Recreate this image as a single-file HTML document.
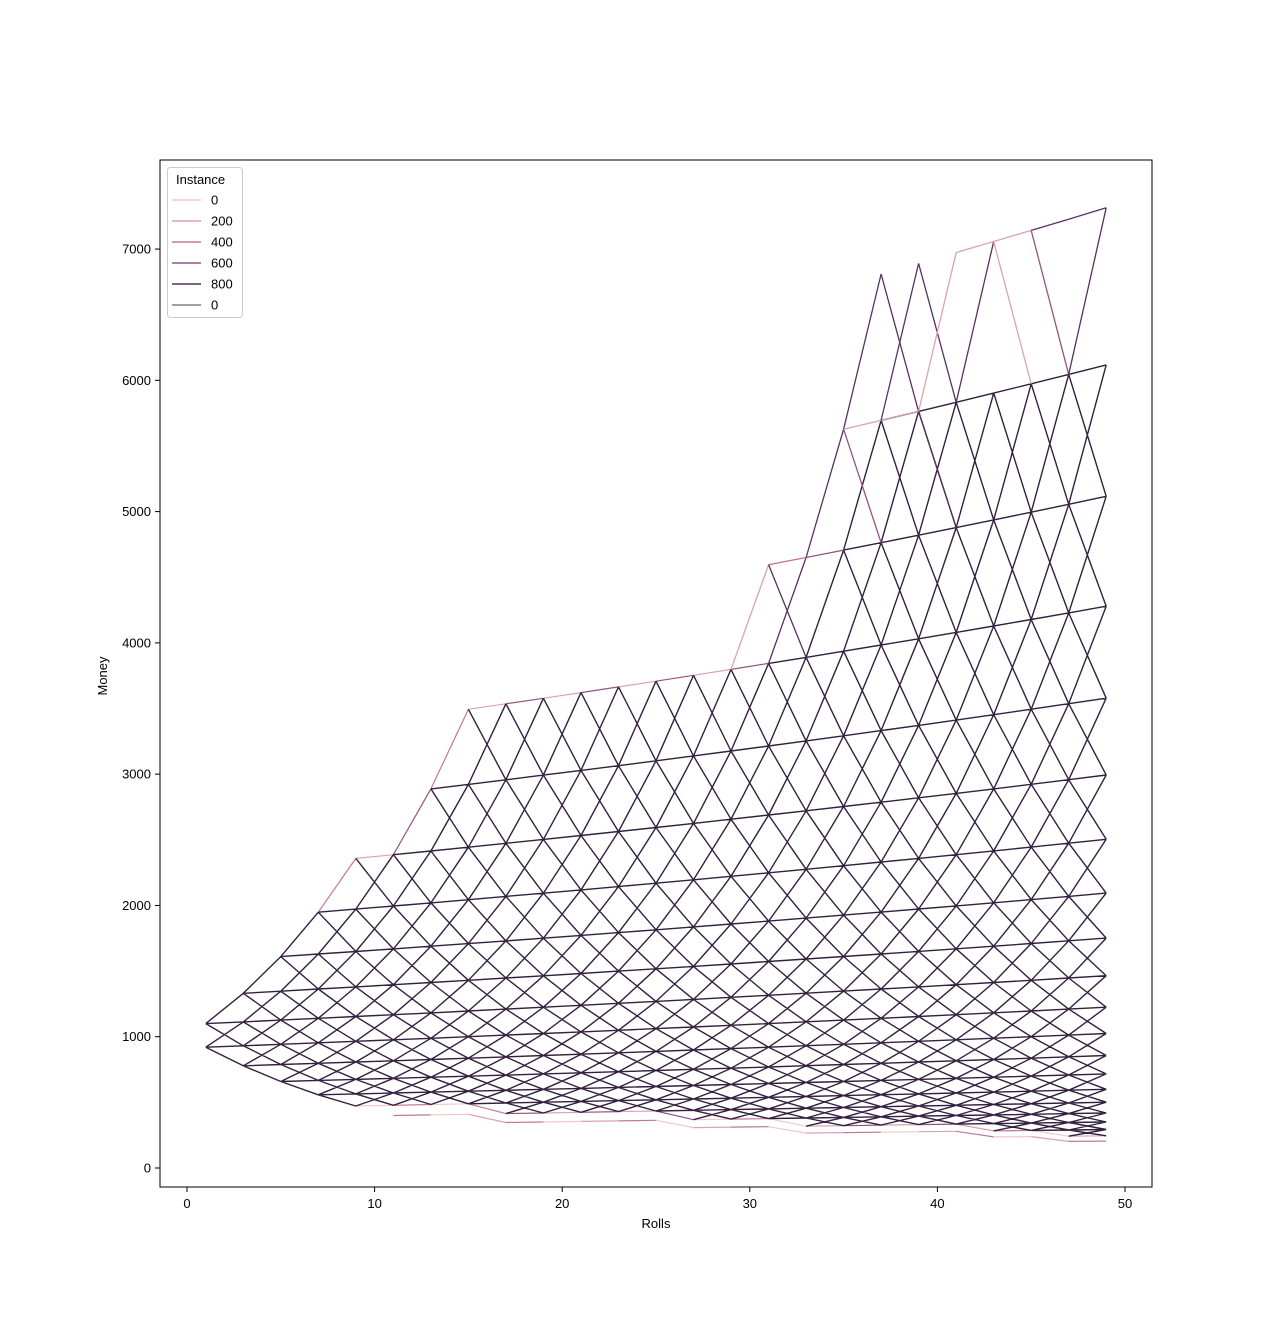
<!DOCTYPE html>
<html><head><meta charset="utf-8"><style>
body{margin:0;background:#fff;font-family:"Liberation Sans","DejaVu Sans",sans-serif;}
svg text{font-family:"Liberation Sans","DejaVu Sans",sans-serif;}
</style></head><body>
<svg id="chart" width="1280" height="1334" viewBox="0 0 1280 1334" xmlns="http://www.w3.org/2000/svg">
<rect width="1280" height="1334" fill="#fff"/>
<g id="marks"></g>
<rect x="160" y="160" width="992" height="1027" fill="none" stroke="#000" stroke-width="1"/>
<g id="axes"></g>
<text x="656" y="1228" font-size="13" text-anchor="middle">Rolls</text>
<text x="107" y="676" font-size="13" text-anchor="middle" transform="rotate(-90 107 676)">Money</text>
<g>
<rect x="167.5" y="167.5" width="75" height="150" rx="3" fill="#fff" fill-opacity="0.8" stroke="#ccc"/>
<text x="176" y="184" font-size="13">Instance</text>
<g id="legend-items"></g>
</g>
</svg>
<script>
const rolls=[1,3,5,7,9,11,13,15,17,19,21,23,25,27,29,31,33,35,37,39,41,43,45,47,49];
const kMax=[1,3,5,7,9,10,12,14,15,16,17,18,19,20,21,22,23,25,27,28,29,30,31,32,33];
const kMin=[0,0,0,0,0,1,2,3,3,4,5,6,7,7,8,9,9,10,11,12,13,13,14,14,15];
// sparse upper edges: [fromRoll, fromK, toK]
const sparseFrom=[29,31,31,31,33,33,35,35,35,37,37,37,39,39,39,41,41,43,43,45,45,47,47];
const sparseK   =[21,22,23,23,24,24,26,26,26,28,27,27,29,28,28,30,29,31,31,32,32,33,32];
const sparseTo  =[23,24,24,23,26,25,28,27,26,28,28,29,29,30,28,31,31,32,31,33,32,34,34];
const sparseTone=[1,4,2,4,4,3,4,1,3,4,1,4,4,1,4,1,4,1,1,4,3,4,4];
const upFactor=1.1, downFactor=0.92, startMoney=1000;
const xTicks=[0,10,20,30,40,50];
const yTicks=[0,1000,2000,3000,4000,5000,6000,7000];
const legendLabels=['0','200','400','600','800','0'];
const palette=['#eccbc8','#dba3ae','#c07995','#955482','#573160','#000000'];
const NS='http://www.w3.org/2000/svg';
function X(v){return 187+v*18.76;}
function Y(v){return 1168-v*0.13128;}
function money(n,k){return startMoney*Math.pow(upFactor,k)*Math.pow(downFactor,n-k);}
function seg(n1,k1,n2,k2){return 'M'+X(n1).toFixed(1)+' '+Y(money(n1,k1)).toFixed(1)+'L'+X(n2).toFixed(1)+' '+Y(money(n2,k2)).toFixed(1);}
const marks=document.getElementById('marks');
function addPath(d,color,w,name){
  const p=document.createElementNS(NS,'path');
  p.setAttribute('d',d);p.setAttribute('stroke',color);p.setAttribute('stroke-width',w);p.setAttribute('fill','none');
  
  
  marks.appendChild(p);
}
let d='';const light=[];
for(let i=0;i<rolls.length-1;i++){
  for(let k=kMin[i];k<=kMax[i];k++){
    for(let j=0;j<3;j++){
      const k2=k+j;
      if(k2<kMin[i+1]||k2>kMax[i+1])continue;
      const s=seg(rolls[i],k,rolls[i+1],k2);
      const edge=(k===kMax[i]&&k2===kMax[i+1]&&i<15)||(k===kMin[i]&&k2===kMin[i+1]&&i>3);
      if(edge&&i>2)light.push([s,(i+k)%4]);else d+=s;
    }
  }
  if(i>3&&kMin[i]>0){
    const k=kMin[i]-1,k2=Math.max(kMin[i+1]-1,k);
    if(k2-k<=2)light.push([seg(rolls[i],k,rolls[i+1],k2),(i%3)]);
  }
}
light.forEach(function(s){addPath(s[0],palette[s[1]],'1.2','envelope-line');});
addPath(d,'#33203f','1.4','instance-lines');
for(let e=0;e<sparseFrom.length;e++){
  addPath(seg(sparseFrom[e],sparseK[e],sparseFrom[e]+2,sparseTo[e]),palette[sparseTone[e]],'1.3','upper-instance-line');
}
const axes=document.getElementById('axes');
xTicks.forEach(function(t){
  const l=document.createElementNS(NS,'line');
  l.setAttribute('x1',X(t));l.setAttribute('x2',X(t));l.setAttribute('y1',1187);l.setAttribute('y2',1192);l.setAttribute('stroke','#000');
  
  
  axes.appendChild(l);
  const tx=document.createElementNS(NS,'text');
  tx.setAttribute('x',X(t));tx.setAttribute('y',1208);tx.setAttribute('font-size','13');tx.setAttribute('text-anchor','middle');tx.textContent=t;
  
  
  axes.appendChild(tx);
});
yTicks.forEach(function(t){
  const l=document.createElementNS(NS,'line');
  l.setAttribute('x1',155);l.setAttribute('x2',160);l.setAttribute('y1',Y(t));l.setAttribute('y2',Y(t));l.setAttribute('stroke','#000');
  
  
  axes.appendChild(l);
  const tx=document.createElementNS(NS,'text');
  tx.setAttribute('x',151);tx.setAttribute('y',Y(t)+4.5);tx.setAttribute('font-size','13');tx.setAttribute('text-anchor','end');tx.textContent=t;
  
  
  axes.appendChild(tx);
});
const li=document.getElementById('legend-items');
legendLabels.forEach(function(lab,i){
  const y=200+i*21;
  const l=document.createElementNS(NS,'line');
  l.setAttribute('x1',172);l.setAttribute('x2',201);l.setAttribute('y1',y);l.setAttribute('y2',y);
  l.setAttribute('stroke',palette[i]);l.setAttribute('stroke-width',i===5?'0.8':'1.6');
  
  
  li.appendChild(l);
  const tx=document.createElementNS(NS,'text');
  tx.setAttribute('x',211);tx.setAttribute('y',y+4.5);tx.setAttribute('font-size','13');tx.textContent=lab;
  
  
  li.appendChild(tx);
});
</script>
</body></html>
